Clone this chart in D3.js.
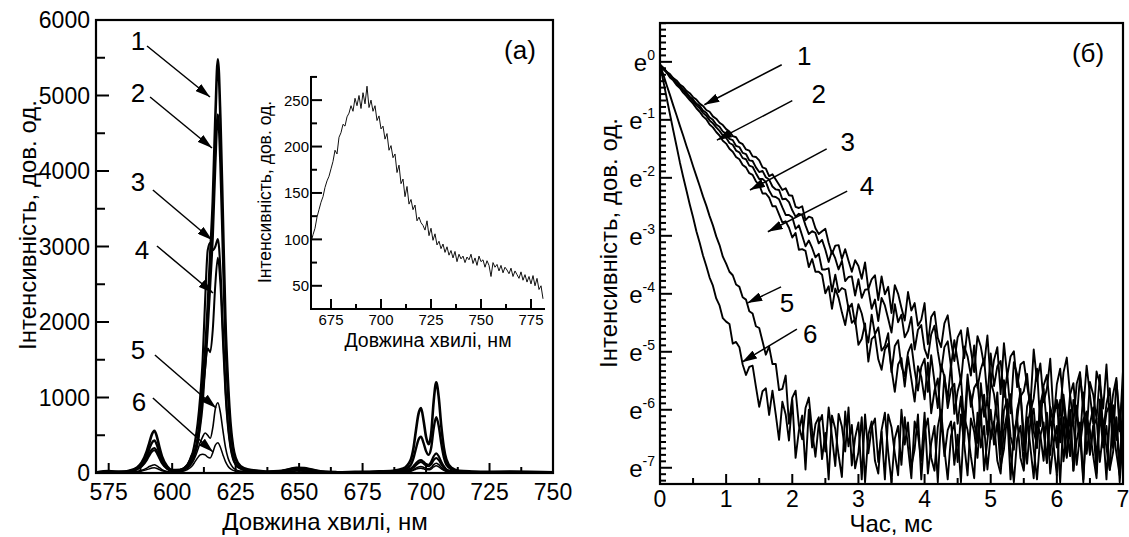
<!DOCTYPE html>
<html>
<head>
<meta charset="utf-8">
<script src="https://cdn.jsdelivr.net/npm/d3@7"></script>
<style>
body { margin: 0; background: #fff; }
text { font-family: "Liberation Sans", Arial, sans-serif; fill: #000; }
</style>
</head>
<body>
<script>
// ---- data ----
// (a) emission spectra, wavelength grid in nm
const specWl = [570,575,580,583,586,588,590,591,592,593,
  594,595,596,598,600,603,606,608,609,610,
  611,612,613,614,615,616,617,618,619,620,
  621,622,623,624,625,627,630,634,638,642,
  646,649,652,655,659,665,672,680,687,691,
  694,695,696,697,698,699,700,701,702,703,
  704,705,706,707,708,710,713,718,725,733,
  741,750];
const spec1 = [5,25,10,30,70,140,290,400,510,560,
  480,340,220,90,40,40,100,250,300,450,
  750,1250,1620,2200,2900,3600,4700,5480,4700,3350,
  2000,1200,650,350,200,90,45,30,20,25,
  50,70,65,45,20,10,15,20,30,60,
  180,320,560,780,860,700,480,380,520,950,
  1200,1000,620,340,180,70,30,20,15,20,
  15,10];
const spec2 = [10,15,20,25,55,110,230,320,400,430,
  370,260,170,70,35,40,90,220,280,400,
  680,1080,1420,1920,2520,3150,4100,4750,4100,2900,
  1750,1040,560,300,180,80,40,25,15,20,
  45,60,55,40,18,12,10,15,25,40,
  110,190,320,440,480,400,290,240,330,590,
  740,620,390,210,110,50,25,15,12,15,
  10,8];
const spec3 = [5,20,15,20,50,95,190,260,310,330,
  290,210,140,60,30,40,110,260,420,650,
  1000,1500,2300,2950,3050,2950,3000,3100,2700,1900,
  1150,650,360,200,120,60,30,20,15,20,
  40,55,50,35,15,10,12,15,20,30,
  60,90,130,160,170,150,120,110,150,220,
  260,220,150,90,50,25,15,12,10,12,
  10,8];
const spec4 = [5,15,10,20,45,85,170,230,280,300,
  260,190,125,55,28,35,80,170,260,400,
  600,900,1400,1650,1600,1900,2500,2850,2500,1750,
  1050,600,330,180,110,55,28,18,12,18,
  35,50,45,30,15,8,10,12,18,25,
  45,70,100,130,145,125,100,90,115,170,
  200,170,115,70,40,20,12,10,8,10,
  8,5];
const spec5 = [3,10,8,10,20,35,65,85,100,110,
  95,70,45,20,12,20,60,140,210,300,
  400,480,530,500,460,600,850,930,800,560,
  340,200,120,70,45,25,15,10,8,10,
  20,30,28,18,8,5,6,8,10,15,
  30,45,65,80,85,75,60,55,70,110,
  130,110,75,45,25,12,8,6,5,6,
  5,3];
const spec6 = [2,8,5,8,15,25,45,55,65,70,
  60,45,30,15,10,15,45,100,150,200,
  240,250,240,210,200,270,370,400,340,240,
  150,90,55,35,25,15,10,8,6,8,
  15,25,22,15,6,4,5,6,8,12,
  22,35,50,60,62,55,45,42,52,80,
  95,80,55,35,20,10,6,5,4,5,
  4,2];

// inset: one value per nm from 665 nm
const insetStart = 665;
const insetVals = [97,105,112,124,132,140,146,156,163,168,
  176,184,196,192,210,215,224,222,232,236,
  244,238,252,244,255,241,258,246,265,242,
  250,238,244,228,233,219,222,208,214,196,
  201,188,192,172,180,160,165,146,157,138,
  143,132,137,120,124,118,115,110,120,104,
  112,99,106,94,98,90,95,86,92,83,
  88,80,87,76,84,79,82,75,81,78,
  84,74,80,72,82,76,78,70,77,72,
  60,75,70,73,66,72,64,70,67,63,
  69,60,66,62,58,65,56,62,54,60,
  52,61,50,58,46,50,36];

// (б) decay curves, ln(I), one value every 0.05 ms from 0
const decayStep = 0.05;
const decay1 = [-0.05,-0.10,-0.17,-0.21,-0.28,-0.32,-0.39,-0.43,-0.50,-0.54,
  -0.61,-0.65,-0.72,-0.76,-0.83,-0.86,-0.94,-0.98,-1.05,-1.09,
  -1.16,-1.20,-1.28,-1.30,-1.39,-1.42,-1.51,-1.53,-1.63,-1.64,
  -1.70,-1.82,-1.84,-1.97,-1.94,-2.03,-2.12,-2.21,-2.18,-2.30,
  -2.31,-2.50,-2.52,-2.49,-2.73,-2.67,-2.69,-2.87,-2.97,-2.92,
  -2.88,-3.12,-3.31,-3.17,-3.16,-3.40,-3.23,-3.43,-3.62,-3.42,
  -3.52,-3.74,-3.46,-3.92,-3.75,-3.68,-4.11,-3.70,-4.01,-3.88,
  -4.33,-3.85,-4.00,-4.24,-4.46,-3.97,-4.29,-4.16,-4.55,-4.45,
  -4.16,-4.87,-4.40,-4.31,-4.76,-4.92,-4.51,-4.37,-4.81,-5.16,
  -4.75,-4.63,-5.11,-4.59,-4.97,-5.35,-4.73,-4.91,-5.24,-4.72,
  -5.53,-5.14,-4.92,-5.73,-4.85,-5.42,-5.08,-4.99,-5.61,-5.22,
  -5.17,-5.58,-5.93,-4.96,-5.50,-5.20,-5.87,-5.63,-5.12,-6.11,
  -5.83,-6.05,-5.36,-5.10,-5.74,-6.24,-5.55,-5.35,-6.00,-5.24,
  -5.74,-6.24,-5.34,-5.55,-5.98,-5.22,-6.21,-5.73,-5.45,-6.37,
  -5.33];
const decay2 = [-0.05,-0.12,-0.17,-0.24,-0.29,-0.36,-0.41,-0.48,-0.53,-0.60,
  -0.65,-0.72,-0.76,-0.84,-0.88,-0.96,-1.00,-1.08,-1.12,-1.20,
  -1.24,-1.33,-1.35,-1.45,-1.47,-1.57,-1.59,-1.70,-1.71,-1.82,
  -1.90,-1.88,-1.99,-2.03,-2.15,-2.20,-2.21,-2.37,-2.36,-2.42,
  -2.56,-2.67,-2.62,-2.64,-2.82,-2.97,-2.92,-2.95,-3.13,-3.07,
  -3.24,-3.45,-3.26,-3.39,-3.58,-3.43,-3.78,-3.71,-3.70,-4.03,
  -3.75,-4.07,-3.93,-3.92,-4.26,-4.10,-4.47,-4.07,-4.20,-4.43,
  -4.67,-4.18,-4.49,-4.36,-4.75,-4.64,-4.40,-4.96,-4.62,-4.54,
  -4.95,-5.11,-4.70,-4.55,-4.99,-5.34,-4.92,-4.82,-5.26,-4.80,
  -5.15,-5.53,-4.91,-5.08,-5.41,-4.89,-5.62,-5.30,-5.12,-5.80,
  -5.03,-5.59,-5.25,-5.16,-5.78,-5.38,-6.06,-5.18,-5.39,-5.77,
  -5.68,-5.38,-6.04,-5.80,-5.29,-6.28,-5.58,-5.40,-6.00,-6.21,
  -5.56,-5.29,-5.93,-6.43,-5.74,-5.54,-6.18,-5.42,-5.92,-6.42,
  -5.52,-5.74,-6.16,-5.40,-6.39,-5.90,-5.63,-6.55,-5.50,-6.14,
  -5.73];
const decay3 = [-0.05,-0.11,-0.18,-0.25,-0.30,-0.37,-0.43,-0.50,-0.55,-0.62,
  -0.68,-0.75,-0.80,-0.88,-0.93,-1.01,-1.06,-1.13,-1.19,-1.27,
  -1.31,-1.40,-1.43,-1.53,-1.56,-1.66,-1.68,-1.79,-1.81,-1.92,
  -2.02,-2.02,-2.07,-2.22,-2.32,-2.33,-2.37,-2.51,-2.64,-2.64,
  -2.68,-2.88,-2.82,-3.00,-3.18,-3.08,-3.21,-3.37,-3.31,-3.58,
  -3.58,-3.56,-3.96,-3.67,-3.97,-3.90,-3.93,-4.26,-4.17,-4.52,
  -4.18,-4.34,-4.60,-4.84,-4.36,-4.70,-4.58,-4.98,-4.90,-4.68,
  -5.35,-4.90,-4.80,-5.25,-5.42,-5.01,-4.87,-5.32,-5.67,-5.26,
  -5.12,-5.69,-5.06,-5.52,-5.97,-5.22,-5.43,-5.82,-5.20,-6.07,
  -5.68,-5.46,-6.27,-5.39,-5.95,-5.62,-5.52,-6.14,-5.74,-6.43,
  -5.50,-5.73,-6.16,-6.53,-5.49,-6.07,-5.73,-6.45,-6.18,-5.64,
  -6.70,-5.94,-5.74,-6.38,-6.60,-5.91,-5.64,-6.28,-6.78,-6.09,
  -5.88,-6.56,-5.74,-6.27,-6.80,-5.83,-6.07,-6.53,-5.70,-6.76,
  -6.25,-5.96,-6.93,-5.82,-6.49,-6.05,-5.90,-6.66,-6.14,-6.97,
  -5.85];
const decay4 = [-0.05,-0.13,-0.18,-0.27,-0.32,-0.40,-0.45,-0.53,-0.59,-0.66,
  -0.72,-0.80,-0.86,-0.94,-0.99,-1.08,-1.13,-1.21,-1.27,-1.36,
  -1.41,-1.50,-1.55,-1.64,-1.68,-1.78,-1.82,-1.92,-1.95,-2.06,
  -2.12,-2.27,-2.27,-2.34,-2.49,-2.49,-2.63,-2.77,-2.75,-2.86,
  -3.03,-2.95,-3.24,-3.23,-3.26,-3.54,-3.40,-3.62,-3.62,-3.67,
  -3.99,-3.87,-4.26,-3.91,-4.07,-4.32,-4.54,-4.20,-4.50,-4.44,
  -4.88,-4.78,-4.51,-5.17,-4.78,-4.72,-5.13,-5.31,-4.96,-4.86,
  -5.30,-5.69,-5.22,-5.11,-5.60,-5.09,-5.47,-5.86,-5.25,-5.43,
  -5.82,-5.19,-6.06,-5.67,-5.46,-6.27,-5.40,-5.97,-5.64,-5.55,
  -6.24,-5.77,-6.56,-5.53,-5.76,-6.20,-6.57,-5.54,-6.12,-5.79,
  -6.51,-6.25,-5.70,-6.77,-6.01,-5.82,-6.46,-6.69,-6.00,-5.74,
  -6.40,-6.93,-6.19,-5.98,-6.66,-5.85,-6.38,-6.92,-5.95,-6.19,
  -6.65,-5.83,-6.89,-6.37,-6.08,-7.05,-5.93,-6.62,-6.17,-6.03,
  -6.78,-6.27,-7.09,-5.97,-6.20,-6.66,-7.04,-5.92,-6.52,-6.16,
  -6.91];
const decay5 = [-0.05,-0.22,-0.40,-0.57,-0.75,-0.92,-1.10,-1.27,-1.45,-1.62,
  -1.80,-1.97,-2.14,-2.32,-2.48,-2.66,-2.82,-3.01,-3.16,-3.36,
  -3.48,-3.62,-3.68,-3.84,-3.88,-4.06,-4.10,-4.30,-4.34,-4.56,
  -4.59,-4.82,-5.05,-4.91,-5.21,-5.21,-5.66,-5.64,-5.41,-6.24,
  -5.79,-5.67,-6.27,-6.51,-5.97,-5.79,-6.36,-6.81,-6.24,-6.09,
  -6.72,-5.96,-6.46,-6.97,-6.07,-6.29,-6.72,-5.96,-6.96,-6.48,
  -6.22,-7.20,-6.08,-6.75,-6.30,-6.15,-6.90,-6.38,-7.20,-6.08,
  -6.30,-6.75,-7.13,-6.00,-6.60,-6.22,-6.98,-6.68,-6.08,-7.20,
  -6.38,-6.15,-6.83,-7.05,-6.30,-6.00,-6.68,-7.20,-6.45,-6.22,
  -6.90,-6.08,-6.60,-7.13,-6.15,-6.38,-6.83,-6.00,-7.05,-6.53,
  -6.00,-6.60,-6.22,-6.98,-6.68,-6.08,-7.20,-6.38,-6.15,-6.83,
  -7.05,-6.30,-6.00,-6.68,-7.20,-6.45,-6.22,-6.90,-6.08,-6.60,
  -7.13,-6.15,-6.38,-6.83,-6.00,-7.05,-6.53,-6.22,-7.20,-6.08,
  -6.75,-6.30,-6.15,-6.90,-6.38,-7.20,-6.08,-6.30,-6.75,-7.13,
  -6.22];
const decay6 = [-0.05,-0.33,-0.62,-0.90,-1.18,-1.45,-1.73,-1.98,-2.22,-2.46,
  -2.68,-2.92,-3.12,-3.34,-3.52,-3.72,-3.86,-4.08,-4.20,-4.42,
  -4.48,-4.52,-4.86,-4.83,-4.92,-5.22,-5.40,-5.26,-5.24,-5.60,
  -5.95,-5.68,-5.63,-6.09,-5.67,-6.08,-6.52,-5.86,-6.08,-6.53,
  -5.83,-6.83,-6.36,-6.10,-7.03,-6.00,-6.65,-6.25,-6.13,-6.85,
  -6.40,-7.20,-6.10,-6.33,-6.78,-7.16,-6.03,-6.63,-6.26,-7.01,
  -6.73,-6.13,-7.25,-6.43,-6.20,-6.88,-7.10,-6.35,-6.05,-6.73,
  -7.25,-6.50,-6.28,-6.95,-6.13,-6.65,-7.18,-6.20,-6.43,-6.88,
  -6.05,-7.10,-6.58,-6.28,-7.25,-6.13,-6.80,-6.35,-6.20,-6.95,
  -6.43,-7.25,-6.13,-6.35,-6.80,-7.18,-6.05,-6.65,-6.28,-7.03,
  -6.43,-6.20,-6.88,-7.10,-6.35,-6.05,-6.73,-7.25,-6.50,-6.28,
  -6.95,-6.13,-6.65,-7.18,-6.20,-6.43,-6.88,-6.05,-7.10,-6.58,
  -6.28,-7.25,-6.13,-6.80,-6.35,-6.20,-6.95,-6.43,-7.25,-6.13,
  -6.35,-6.80,-7.18,-6.05,-6.65,-6.28,-7.03,-6.73,-6.13,-7.25,
  -6.43];

const curveNames = ["1", "2", "3", "4", "5", "6"];
const specTicksX = [575, 600, 625, 650, 675, 700, 725, 750];
const specTicksY = [0, 1000, 2000, 3000, 4000, 5000, 6000];
const insetTicksX = [675, 700, 725, 750, 775];
const insetTicksY = [50, 100, 150, 200, 250];
const decayTicksX = [0, 1, 2, 3, 4, 5, 6, 7];
const decayTicksExp = [0, -1, -2, -3, -4, -5, -6, -7];

// ---- page ----
const W = 1129, H = 537;
const FONT = 23;
const svg = d3.select("body").append("svg").attr("width", W).attr("height", H);
svg.append("rect").attr("width", W).attr("height", H).attr("fill", "#fff");
const defs = svg.append("defs");
defs.append("marker")
    .attr("id", "ah")
    .attr("viewBox", "0 0 10 10")
    .attr("refX", 10).attr("refY", 5)
    .attr("markerWidth", 15).attr("markerHeight", 9)
    .attr("markerUnits", "userSpaceOnUse")
    .attr("preserveAspectRatio", "none")
    .attr("orient", "auto")
    .append("path").attr("d", "M0,0L10,5L0,10z").attr("fill", "#000");

function clip(id, x, y, w, h) {
    defs.append("clipPath").attr("id", id)
        .append("rect").attr("x", x).attr("y", y).attr("width", w).attr("height", h);
}

// ticks pointing into the plot
function xTicks(g, vals, sx, y0, len, sw) {
    g.append("g").selectAll("line").data(vals).join("line")
        .attr("x1", d => sx(d)).attr("x2", d => sx(d))
        .attr("y1", y0).attr("y2", y0 - len)
        .attr("stroke", "#000").attr("stroke-width", sw);
}
function yTicks(g, vals, sy, x0, len, sw) {
    g.append("g").selectAll("line").data(vals).join("line")
        .attr("x1", x0).attr("x2", x0 + len)
        .attr("y1", d => sy(d)).attr("y2", d => sy(d))
        .attr("stroke", "#000").attr("stroke-width", sw);
}
function arrows(g, notes, sx, sy) {
    notes.forEach(n => {
        g.append("line")
            .attr("x1", sx(n.x1)).attr("y1", sy(n.y1))
            .attr("x2", sx(n.x2)).attr("y2", sy(n.y2))
            .attr("stroke", "#000").attr("stroke-width", 1.5)
            .attr("marker-end", "url(#ah)");
        g.append("text")
            .attr("x", sx(n.tx)).attr("y", sy(n.ty))
            .attr("dy", "0.36em").attr("text-anchor", "middle")
            .style("font-size", "26px").text(n.t);
    });
}

// ================= (a) spectra =================
const xL = d3.scaleLinear().domain([570, 750]).range([96, 553]);
const yL = d3.scaleLinear().domain([0, 6000]).range([473, 20]);
const gL = svg.append("g");
clip("clipL", 96, 20, 457, 453);

const specSeries = [spec1, spec2, spec3, spec4, spec5, spec6];
const specWidth = [2.6, 2.4, 2.1, 2.0, 1.6, 1.5];
const lineL = d3.line()
    .x((d, i) => xL(specWl[i]))
    .y(d => yL(d))
    .curve(d3.curveMonotoneX);
gL.append("g").attr("clip-path", "url(#clipL)")
    .selectAll("path").data(specSeries).join("path")
    .attr("d", d => lineL(d))
    .attr("fill", "none").attr("stroke", "#000")
    .attr("stroke-width", (d, i) => specWidth[i])
    .attr("stroke-linejoin", "round");

gL.append("rect").attr("x", 96).attr("y", 20).attr("width", 457).attr("height", 453)
    .attr("fill", "none").attr("stroke", "#000").attr("stroke-width", 2.2);
yTicks(gL, specTicksY.slice(1, -1), yL, 96, 13, 2);
yTicks(gL, d3.range(500, 6000, 1000), yL, 96, 9, 2);
xTicks(gL, specTicksX.slice(0, -1), xL, 473, 10, 2);
xTicks(gL, d3.range(587.5, 750, 25), xL, 473, 6, 2);

gL.append("g").selectAll("text").data(specTicksY).join("text")
    .attr("x", 90).attr("y", d => yL(d)).attr("dy", "0.36em")
    .attr("text-anchor", "end").style("font-size", FONT + "px")
    .text(d => d);
gL.append("g").selectAll("text").data(specTicksX).join("text")
    .attr("x", d => xL(d)).attr("y", 500)
    .attr("text-anchor", "middle").style("font-size", FONT + "px")
    .text(d => d);
gL.append("text").attr("x", 325).attr("y", 530)
    .attr("text-anchor", "middle").style("font-size", "24px")
    .text("Довжина хвилі, нм");
gL.append("text").attr("transform", "translate(27,225) rotate(-90)")
    .attr("dy", "0.36em").attr("text-anchor", "middle").style("font-size", "24px")
    .text("Інтенсивність, дов. од.");
gL.append("text").attr("x", 520).attr("y", 50).attr("dy", "0.36em")
    .attr("text-anchor", "middle").style("font-size", "26px").text("(a)");

const specNotes = [
    { t: curveNames[0], tx: 586.5, ty: 5722, x1: 590.1, y1: 5656, x2: 614.9, y2: 4980 },
    { t: curveNames[1], tx: 586.5, ty: 5033, x1: 591.3, y1: 4980, x2: 615.7, y2: 4305 },
    { t: curveNames[2], tx: 586.5, ty: 3854, x1: 592.4, y1: 3748, x2: 615.7, y2: 3086 },
    { t: curveNames[3], tx: 588.1, ty: 2954, x1: 594.0, y1: 3007, x2: 616.1, y2: 2384 },
    { t: curveNames[4], tx: 586.5, ty: 1629, x1: 593.2, y1: 1563, x2: 617.3, y2: 861 },
    { t: curveNames[5], tx: 586.9, ty: 940, x1: 592.4, y1: 993, x2: 616.1, y2: 278 }
];
arrows(gL, specNotes, xL, yL);

// ---- inset ----
const xI = d3.scaleLinear().domain([665, 782]).range([311, 545]);
const yI = d3.scaleLinear().domain([25, 276]).range([309, 76]);
const gI = svg.append("g");
const lineI = d3.line().x((d, i) => xI(insetStart + i)).y(d => yI(d));
gI.append("path").datum(insetVals).attr("d", lineI)
    .attr("fill", "none").attr("stroke", "#111").attr("stroke-width", 1);
gI.append("path").attr("d", `M${xI(665)},${yI(276)}V${yI(25)}H${xI(782)}`)
    .attr("fill", "none").attr("stroke", "#000").attr("stroke-width", 2);
yTicks(gI, insetTicksY, yI, 311, 11, 2);
yTicks(gI, d3.range(75, 276, 50), yI, 311, 6, 2);
xTicks(gI, insetTicksX, xI, 309, 10, 2);
xTicks(gI, d3.range(687.5, 782, 25), xI, 309, 5, 2);
gI.append("g").selectAll("text").data(insetTicksY).join("text")
    .attr("x", 309).attr("y", d => yI(d)).attr("dy", "0.36em")
    .attr("text-anchor", "end").style("font-size", "15px").text(d => d);
gI.append("g").selectAll("text").data(insetTicksX).join("text")
    .attr("x", d => xI(d)).attr("y", 325)
    .attr("text-anchor", "middle").style("font-size", "15px").text(d => d);
gI.append("text").attr("x", 428).attr("y", 347)
    .attr("text-anchor", "middle").style("font-size", "19.5px")
    .text("Довжина хвилі, нм");
gI.append("text").attr("transform", "translate(265,192) rotate(-90)")
    .attr("dy", "0.36em").attr("text-anchor", "middle").style("font-size", "17.5px")
    .text("Інтенсивність, дов. од.");

// ================= (б) decay =================
const xR = d3.scaleLinear().domain([0, 7]).range([660, 1123]);
const yR = d3.scaleLinear().domain([-7.28, 0.67]).range([484, 23]);
const gR = svg.append("g");
clip("clipR", 660, 23, 463, 461);

const decaySeries = [decay1, decay2, decay3, decay4, decay5, decay6];
const lineR = d3.line().x((d, i) => xR(i * decayStep)).y(d => yR(d));
gR.append("g").attr("clip-path", "url(#clipR)")
    .selectAll("path").data(decaySeries).join("path")
    .attr("d", d => lineR(d))
    .attr("fill", "none").attr("stroke", "#000")
    .attr("stroke-width", 1.9).attr("stroke-linejoin", "round");

gR.append("rect").attr("x", 660).attr("y", 23).attr("width", 463).attr("height", 461)
    .attr("fill", "none").attr("stroke", "#000").attr("stroke-width", 2.2);
const minorR = [];
d3.range(-8, 1).forEach(n => d3.range(1, 9).forEach(k => {
    const v = n + k / 9;
    if (v > -7.28 && v < 0.67) minorR.push(v);
}));
yTicks(gR, decayTicksExp, yR, 660, 12, 2);
yTicks(gR, minorR, yR, 660, 6, 2);
xTicks(gR, decayTicksX.slice(1, -1), xR, 484, 10, 2);
xTicks(gR, d3.range(0.5, 7, 1), xR, 484, 6, 2);

const expLabels = gR.append("g").selectAll("text").data(decayTicksExp).join("text")
    .attr("x", 655).attr("y", d => yR(d) + 9)
    .attr("text-anchor", "end");
expLabels.append("tspan").style("font-size", "24px").text("e");
expLabels.append("tspan").attr("dy", -11).style("font-size", "14px").text(d => d);

gR.append("g").selectAll("text").data(decayTicksX).join("text")
    .attr("x", d => xR(d)).attr("y", 507)
    .attr("text-anchor", "middle").style("font-size", FONT + "px").text(d => d);
gR.append("text").attr("x", 891).attr("y", 532)
    .attr("text-anchor", "middle").style("font-size", "24px").text("Час, мс");
gR.append("text").attr("transform", "translate(608,243) rotate(-90)")
    .attr("dy", "0.36em").attr("text-anchor", "middle").style("font-size", "24px")
    .text("Інтенсивність, дов. од.");
gR.append("text").attr("x", 1088).attr("y", 53).attr("dy", "0.36em")
    .attr("text-anchor", "middle").style("font-size", "26px").text("(б)");

const decayNotes = [
    { t: curveNames[0], tx: 2.18, ty: 0.10, x1: 1.84, y1: -0.05, x2: 0.67, y2: -0.74 },
    { t: curveNames[1], tx: 2.40, ty: -0.55, x1: 2.00, y1: -0.67, x2: 0.86, y2: -1.35 },
    { t: curveNames[2], tx: 2.84, ty: -1.38, x1: 2.52, y1: -1.50, x2: 1.36, y2: -2.21 },
    { t: curveNames[3], tx: 3.13, ty: -2.14, x1: 2.83, y1: -2.23, x2: 1.63, y2: -2.93 },
    { t: curveNames[4], tx: 1.92, ty: -4.16, x1: 1.83, y1: -3.88, x2: 1.32, y2: -4.16 },
    { t: curveNames[5], tx: 2.27, ty: -4.69, x1: 2.07, y1: -4.61, x2: 1.24, y2: -5.18 }
];
arrows(gR, decayNotes, xR, yR);
</script>
</body>
</html>
